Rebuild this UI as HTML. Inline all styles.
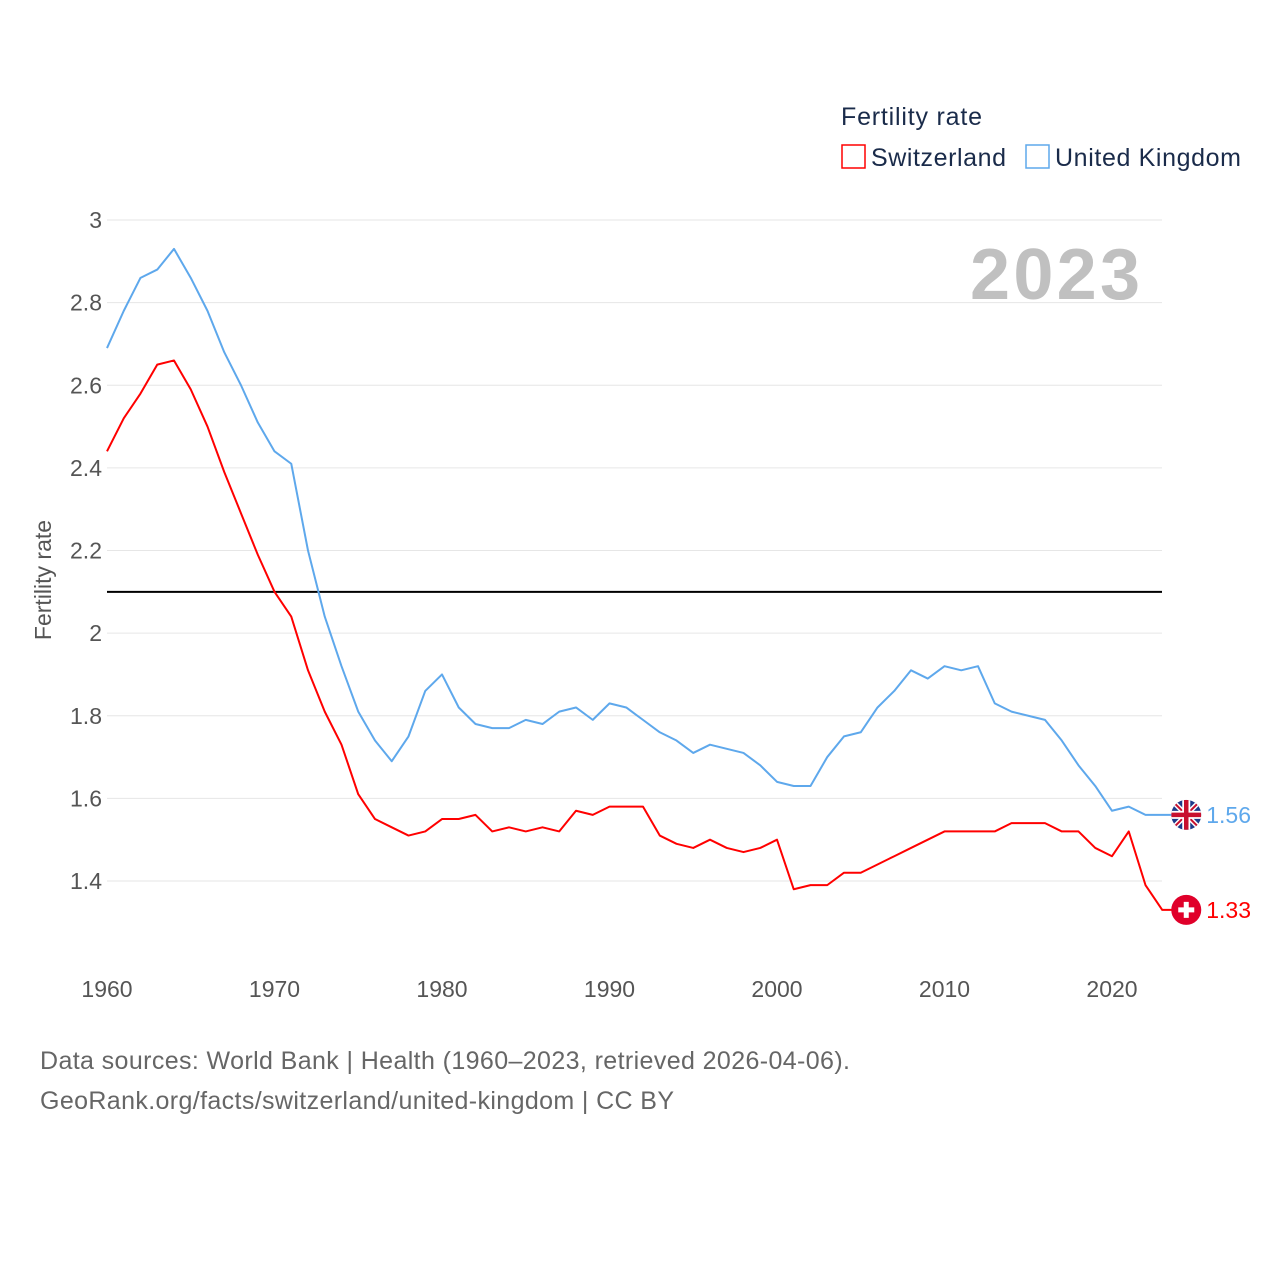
<!DOCTYPE html>
<html><head><meta charset="utf-8"><style>
body{margin:0;background:#fff;font-family:"Liberation Sans",sans-serif}
svg text{font-family:"Liberation Sans",sans-serif}
</style></head><body>
<svg id="c" width="1280" height="1280" xmlns="http://www.w3.org/2000/svg">
<defs><clipPath id="ukclip"><circle cx="0" cy="0" r="15"/></clipPath></defs>
<text x="841" y="125" font-size="25" fill="#1a2b4a" textLength="141">Fertility rate</text>
<rect x="842" y="145" width="23" height="23" fill="none" stroke="#ff0000" stroke-width="1.5"/>
<text x="871" y="166" font-size="25" fill="#1a2b4a" textLength="135">Switzerland</text>
<rect x="1026" y="145" width="23" height="23" fill="none" stroke="#5ea8ec" stroke-width="1.5"/>
<text x="1055" y="166" font-size="25" fill="#1a2b4a" textLength="186">United Kingdom</text>
<g id="grid"></g>
<text x="1140" y="299" text-anchor="end" font-size="72" font-weight="bold" fill="#c0c0c0" textLength="170">2023</text>
<text transform="translate(51,580) rotate(-90)" text-anchor="middle" font-size="23" fill="#555">Fertility rate</text>
<g id="marks"></g>
<text x="40" y="1069" font-size="25" fill="#666" textLength="810">Data sources: World Bank | Health (1960–2023, retrieved 2026-04-06).</text>
<text x="40" y="1109" font-size="25" fill="#666" textLength="634">GeoRank.org/facts/switzerland/united-kingdom | CC BY</text>
</svg>
<script>
const years=[];for(let y=1960;y<=2023;y++)years.push(y);
const ukValues=[2.69,2.78,2.86,2.88,2.93,2.86,2.78,2.68,2.60,2.51,2.44,2.41,2.20,2.04,1.92,1.81,1.74,1.69,1.75,1.86,1.90,1.82,1.78,1.77,1.77,1.79,1.78,1.81,1.82,1.79,1.83,1.82,1.79,1.76,1.74,1.71,1.73,1.72,1.71,1.68,1.64,1.63,1.63,1.70,1.75,1.76,1.82,1.86,1.91,1.89,1.92,1.91,1.92,1.83,1.81,1.80,1.79,1.74,1.68,1.63,1.57,1.58,1.56,1.56];
const chValues=[2.44,2.52,2.58,2.65,2.66,2.59,2.50,2.39,2.29,2.19,2.10,2.04,1.91,1.81,1.73,1.61,1.55,1.53,1.51,1.52,1.55,1.55,1.56,1.52,1.53,1.52,1.53,1.52,1.57,1.56,1.58,1.58,1.58,1.51,1.49,1.48,1.50,1.48,1.47,1.48,1.50,1.38,1.39,1.39,1.42,1.42,1.44,1.46,1.48,1.50,1.52,1.52,1.52,1.52,1.54,1.54,1.54,1.52,1.52,1.48,1.46,1.52,1.39,1.33];
const yTicks=[1.4,1.6,1.8,2,2.2,2.4,2.6,2.8,3];
const xTicks=[1960,1970,1980,1990,2000,2010,2020];
const refValue=2.1;
const X=y=>107+(y-1960)*16.75, Y=v=>220+(3-v)*413.125;
const NS="http://www.w3.org/2000/svg";
function mk(t,a,p){const e=document.createElementNS(NS,t);for(const k in a)e.setAttribute(k,a[k]);p.appendChild(e);return e;}
const g=document.getElementById('grid'),m=document.getElementById('marks');
yTicks.forEach(v=>{
 const l=mk('line',{x1:107,x2:1162,y1:Y(v),y2:Y(v),stroke:'#e6e6e6','stroke-width':1},g);
 
 
 const t=mk('text',{x:102,y:Y(v)+8,'text-anchor':'end','font-size':23,fill:'#555'},g);t.textContent=String(v);
 
 
});
xTicks.forEach(y=>{
 const t=mk('text',{x:X(y),y:997,'text-anchor':'middle','font-size':23,fill:'#555'},g);t.textContent=y;
 
 
});
const r=mk('line',{x1:107,x2:1162,y1:Y(refValue),y2:Y(refValue),stroke:'#000','stroke-width':2},m);


function series(vals,col,name,uk){
 const lv=vals[vals.length-1],lx=X(years[years.length-1]),ly=Y(lv);
 const pts=vals.map((v,i)=>X(years[i])+','+Y(v));pts.push((lx+10)+','+ly);
 const p=mk('polyline',{points:pts.join(' '),fill:'none',stroke:col,'stroke-width':2,'stroke-linejoin':'round'},m);
 
 
 const f=mk('g',{transform:`translate(${lx+24},${ly})`},m);
 
 
 if(uk){
  const gg=mk('g',{'clip-path':'url(#ukclip)'},f);
  mk('rect',{x:-15,y:-15,width:30,height:30,fill:'#1d3a8a'},gg);
  mk('path',{d:'M-15 -15L15 15M15 -15L-15 15',stroke:'#fff','stroke-width':5},gg);
  mk('path',{d:'M-15 -15L15 15M15 -15L-15 15',stroke:'#c8102e','stroke-width':2},gg);
  mk('path',{d:'M0 -15V15M-15 0H15',stroke:'#fff','stroke-width':8},gg);
  mk('path',{d:'M0 -15V15M-15 0H15',stroke:'#c8102e','stroke-width':4.5},gg);
 } else {
  mk('circle',{cx:0,cy:0,r:15,fill:'#e0002a'},f);
  mk('path',{d:'M-2.5 -8h5v5.5h5.5v5h-5.5v5.5h-5v-5.5h-5.5v-5h5.5z',fill:'#fff'},f);
 }
 const t=mk('text',{x:lx+44,y:ly+8,'font-size':23,fill:col},m);t.textContent=lv.toFixed(2);
 
 
}
series(ukValues,'#5ea8ec','uk-line',true);
series(chValues,'#ff0000','switzerland-line',false);
</script>
</body></html>
